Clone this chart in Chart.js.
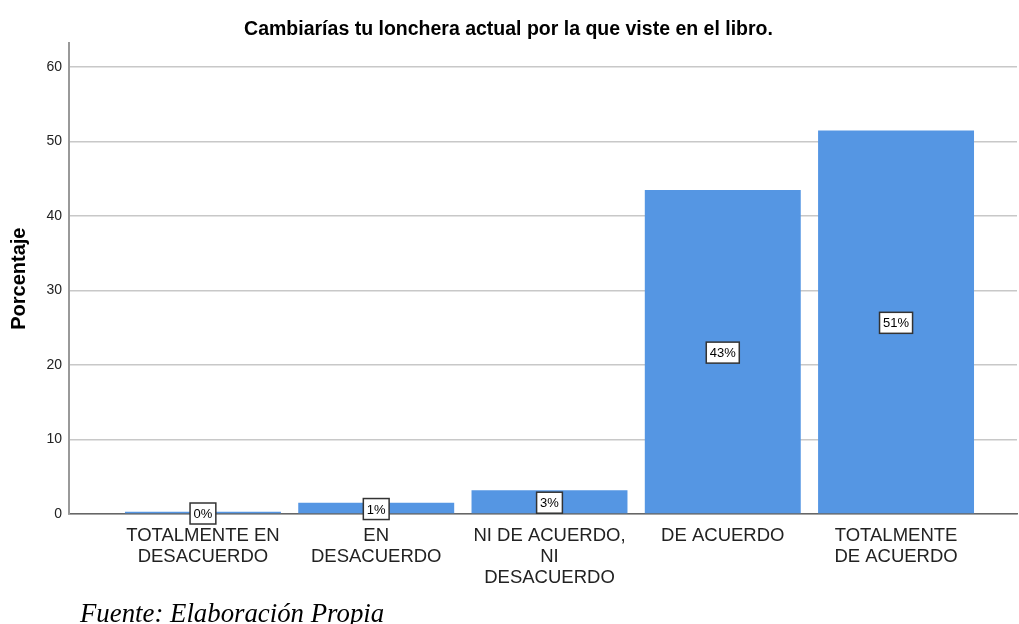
<!DOCTYPE html>
<html>
<head>
<meta charset="utf-8">
<script src="https://cdn.jsdelivr.net/npm/chart.js@4.4.0/dist/chart.umd.min.js"></script>
<style>
  body { margin: 0; background: #fff; }
  #wrap { position: relative; width: 1019px; height: 624px; }
  #fuente { position: absolute; left: 80px; top: 600px; font: italic 26.8px 'Liberation Serif', 'Times New Roman', serif; line-height: 1; color: #000; }
</style>
</head>
<body>
<div id="wrap">
  <canvas id="myChart" width="1019" height="624"></canvas>
  <div id="fuente">Fuente: Elaboración Propia</div>
</div>
<script>
// datos
var categorias = [
    ['TOTALMENTE EN', 'DESACUERDO'],
    ['EN', 'DESACUERDO'],
    ['NI DE ACUERDO,', 'NI', 'DESACUERDO'],
    ['DE ACUERDO'],
    ['TOTALMENTE', 'DE ACUERDO']
];
var porcentajes = [0.3, 1.5, 3.2, 43.5, 51.5];
var etiquetas = ['0%', '1%', '3%', '43%', '51%'];
var ticksY = [0, 10, 20, 30, 40, 50, 60];

var puntos = porcentajes.map(function (v, i) { return { x: i, y: v }; });

// cajitas con el porcentaje en medio de cada barra
var cajas = {
    id: 'cajas',
    afterDatasetsDraw: function (chart) {
        var ctx = chart.ctx;
        var meta = chart.getDatasetMeta(0);
        ctx.save();
        ctx.font = '13px "Liberation Sans", Arial, sans-serif';
        ctx.textAlign = 'center';
        ctx.textBaseline = 'middle';
        meta.data.forEach(function (bar, i) {
            var txt = etiquetas[i];
            var cy = (bar.y + bar.base) / 2 + 1;
            var w = ctx.measureText(txt).width + 7;
            var h = 21;
            ctx.fillStyle = '#fff';
            ctx.fillRect(bar.x - w / 2, cy - h / 2, w, h);
            ctx.strokeStyle = '#333';
            ctx.lineWidth = 1.5;
            ctx.strokeRect(bar.x - w / 2, cy - h / 2, w, h);
            ctx.fillStyle = '#000';
            ctx.fillText(txt, bar.x, cy + 1);
        });
        ctx.restore();
    }
};

var ctx = document.getElementById('myChart').getContext('2d');
var myChart = new Chart(ctx, {
    type: 'bar',
    data: {
        datasets: [
            {
                data: puntos,
                backgroundColor: '#5596e3',
                borderWidth: 0,
                barPercentage: 0.9,
                categoryPercentage: 1
            }
        ]
    },
    plugins: [cajas],
    options: {
        responsive: false,
        devicePixelRatio: 1,
        animation: false,
        layout: { padding: { left: 0, right: 2, top: 0, bottom: 0 } },
        plugins: {
            legend: { display: false },
            tooltip: { enabled: false },
            title: {
                display: true,
                text: 'Cambiarías tu lonchera actual por la que viste en el libro.',
                color: '#000',
                font: { family: '"Liberation Sans", Arial, sans-serif', size: 19.5, weight: 'bold' },
                padding: { top: 18, bottom: 2 }
            }
        },
        scales: {
            x: {
                type: 'linear',
                offset: false,
                min: -0.773,
                max: 4.698,
                grid: { display: false, drawTicks: false, offset: false },
                border: { display: true, color: '#666', width: 1.5 },
                ticks: {
                    stepSize: 1,
                    autoSkip: false,
                    includeBounds: false,
                    maxRotation: 0,
                    padding: 12,
                    color: '#222',
                    font: { family: '"Liberation Sans", Arial, sans-serif', size: 18.5, lineHeight: 1.12 },
                    callback: function (value) { return categorias[value] || ''; }
                },
                afterFit: function (scale) { scale.height = 110; }
            },
            y: {
                min: 0,
                max: 63.18,
                grid: { color: '#c8c8c8', lineWidth: 1.5, drawTicks: false },
                border: { display: true, color: '#999', width: 2 },
                ticks: {
                    stepSize: 10,
                    includeBounds: false,
                    padding: 7,
                    color: '#222',
                    font: { family: '"Liberation Sans", Arial, sans-serif', size: 14 },
                    callback: function (value) { return ticksY.indexOf(value) >= 0 ? value : ''; }
                },
                title: {
                    display: true,
                    text: 'Porcentaje',
                    color: '#000',
                    font: { family: '"Liberation Sans", Arial, sans-serif', size: 20, weight: 'bold' },
                    padding: { top: 7, bottom: 0 }
                },
                afterFit: function (scale) { scale.width = 69; }
            }
        }
    }
});
</script>
</body>
</html>
